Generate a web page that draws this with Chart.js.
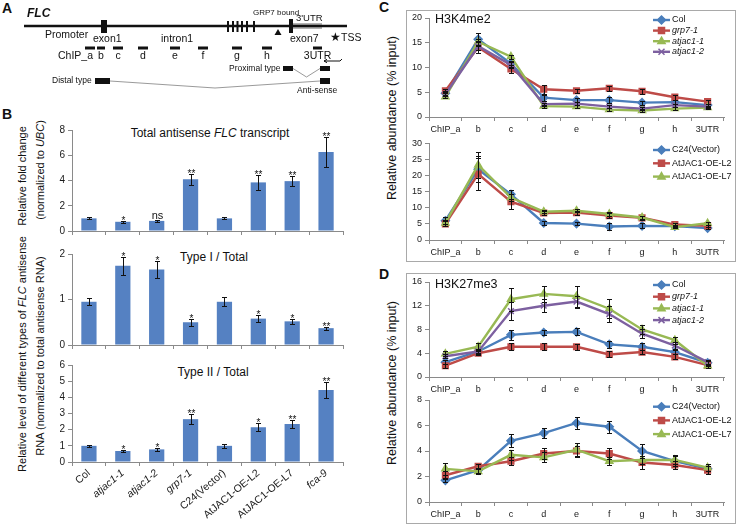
<!DOCTYPE html>
<html>
<head>
<meta charset="utf-8">
<title>FLC antisense transcripts and histone marks</title>
<script src="https://cdn.jsdelivr.net/npm/chart.js@4.4.1/dist/chart.umd.min.js"></script>
<style>
  body { margin: 0; background: #fff; }
  #page { position: relative; width: 738px; height: 526px; overflow: hidden;
          font-family: "Liberation Sans", Arial, sans-serif; color: #111; }
  #page canvas { position: absolute; }
  .txt { position: absolute; white-space: nowrap; transform: translate(-50%, -50%); }
  .vert { position: absolute; white-space: nowrap; transform: translate(-50%, -50%) rotate(-90deg); }
  .letter { position: absolute; font-weight: bold; font-size: 14px; }
  .frame { position: absolute; border: 1px solid #a9a9a9; box-sizing: border-box; }
</style>
</head>
<body>
<div id="page">
  <div class="frame" style="left:406px;top:10px;width:330px;height:252px"></div>
  <div class="frame" style="left:406px;top:273px;width:330px;height:251px"></div>

  <div class="letter" style="left:2px;top:0px">A</div>
  <div class="letter" style="left:2px;top:106px">B</div>
  <div class="letter" style="left:379px;top:-1px">C</div>
  <div class="letter" style="left:379px;top:266px">D</div>

  <div class="txt" style="left:210px;top:133px;font-size:12px">Total antisense <i>FLC</i> transcript</div>
  <div class="txt" style="left:214px;top:257px;font-size:12px">Type I / Total</div>
  <div class="txt" style="left:213px;top:372px;font-size:12px">Type II / Total</div>

  <div class="vert" style="left:22px;top:176px;font-size:11px">Relative fold change</div>
  <div class="vert" style="left:40px;top:170px;font-size:11px">(normalized to <i>UBC</i>)</div>
  <div class="vert" style="left:22px;top:354px;font-size:11px">Relative level of different types of <i>FLC</i> antisense</div>
  <div class="vert" style="left:40px;top:356px;font-size:11px">RNA (normalized to total antisense RNA)</div>

  <div class="vert" style="left:392px;top:118px;font-size:12.5px">Relative abundance (% input)</div>
  <div class="vert" style="left:392px;top:383px;font-size:12.5px">Relative abundance (% input)</div>
</div>

<script>
// ---- panel A: FLC locus (positions along the drawing axis) ----
const locusSpan = [24, 347];
const exon1Pos = [101, 107];
const middleExons = [228, 233, 237.5, 242, 247, 254];
const exon7Pos = [289, 293];
const utrPos = [293, 322];
const grp7Pos = 278;
const chipNames = ['ChIP_a', 'b', 'c', 'd', 'e', 'f', 'g', 'h', '3UTR'];
const chipStart = [85, 97, 113, 138, 170, 198, 232, 262, 313];
const chipEnd = [95, 105, 123, 148, 180, 208, 242, 272, 322];
const proximalExons = [[283, 293], [320, 330]];
const distalExons = [[95, 110], [320, 330]];

// ---- panel B: antisense transcripts ----
const genotypes = ['Col', 'atjac1-1', 'atjac1-2', 'grp7-1', 'C24(Vector)', 'AtJAC1-OE-L2', 'AtJAC1-OE-L7', 'fca-9'];
const italicGenotype = [false, true, true, true, false, false, false, true];

const totalVals = [1.0, 0.73, 0.8, 4.1, 1.0, 3.85, 3.95, 6.25];
const totalErr = [0.08, 0.07, 0.1, 0.45, 0.07, 0.6, 0.4, 1.17];
const totalMarks = ['', '*', 'ns', '**', '', '**', '**', '**'];

const typeIVals = [0.95, 1.74, 1.66, 0.5, 0.95, 0.58, 0.52, 0.37];
const typeIErr = [0.08, 0.2, 0.18, 0.08, 0.1, 0.07, 0.06, 0.03];
const typeIMarks = ['', '*', '*', '*', '', '*', '*', '**'];

const typeIIVals = [1.0, 0.68, 0.78, 2.65, 1.0, 2.15, 2.35, 4.45];
const typeIIErr = [0.08, 0.06, 0.1, 0.3, 0.12, 0.25, 0.25, 0.5];
const typeIIMarks = ['', '*', '*', '**', '', '*', '**', '**'];

// ---- panels C and D: ChIP along FLC ----
const regions = ['ChIP_a', 'b', 'c', 'd', 'e', 'f', 'g', 'h', '3UTR'];
const mutantNames = ['Col', 'grp7-1', 'atjac1-1', 'atjac1-2'];
const mutantItalic = [false, true, true, true];
const oeNames = ['C24(Vector)', 'AtJAC1-OE-L2', 'AtJAC1-OE-L7'];
const oeItalic = [false, false, false];

const colK4 = [4.8, 15.7, 10.8, 3.9, 3.4, 3.4, 2.9, 3.0, 2.4];
const grp7K4 = [5.3, 14.1, 9.7, 5.6, 5.3, 5.8, 5.2, 4.0, 3.1];
const jac11K4 = [4.1, 15.2, 12.2, 2.2, 2.1, 1.5, 1.3, 1.7, 1.9];
const jac12K4 = [4.6, 14.3, 10.5, 2.6, 2.7, 2.1, 1.7, 2.4, 2.1];
const colK4Err = [0.4, 1.3, 0.6, 0.6, 0.4, 0.6, 0.4, 0.4, 0.3];
const grp7K4Err = [0.3, 1.2, 0.8, 0.9, 0.4, 0.5, 0.5, 0.5, 0.4];
const jac11K4Err = [0.3, 0.6, 0.4, 0.3, 0.3, 0.3, 0.3, 0.3, 0.2];
const jac12K4Err = [0.3, 0.8, 0.6, 0.3, 0.3, 0.3, 0.3, 0.3, 0.2];

const c24K4 = [6.0, 22.0, 14.2, 5.3, 5.1, 4.2, 4.4, 4.3, 3.7];
const l2K4 = [5.0, 20.5, 11.9, 8.4, 8.5, 7.6, 6.9, 4.8, 4.4];
const l7K4 = [5.3, 23.3, 13.2, 8.8, 9.1, 8.1, 7.0, 4.0, 5.2];
const c24K4Err = [1.0, 4.0, 1.3, 0.6, 0.5, 1.0, 0.8, 0.4, 0.4];
const l2K4Err = [0.8, 5.0, 2.4, 0.6, 0.6, 0.7, 0.6, 0.4, 0.4];
const l7K4Err = [0.8, 4.0, 1.2, 0.5, 0.5, 0.5, 0.5, 0.4, 0.4];

const colK27 = [2.5, 4.3, 7.1, 7.5, 7.6, 5.5, 5.1, 4.2, 2.4];
const grp7K27 = [1.9, 4.0, 5.1, 5.1, 5.1, 3.8, 4.2, 3.4, 2.0];
const jac11K27 = [3.9, 5.1, 13.1, 14.0, 13.6, 11.5, 8.0, 6.2, 1.9];
const jac12K27 = [3.5, 4.3, 11.1, 12.0, 12.7, 10.6, 7.3, 5.3, 2.5];
const colK27Err = [0.3, 0.3, 0.8, 0.5, 0.6, 0.6, 0.6, 0.4, 0.3];
const grp7K27Err = [0.3, 0.3, 0.6, 0.6, 0.5, 0.5, 0.4, 0.4, 0.2];
const jac11K27Err = [0.4, 0.6, 1.9, 1.4, 1.8, 1.6, 0.8, 0.6, 0.3];
const jac12K27Err = [0.3, 0.4, 1.5, 1.1, 1.0, 1.3, 0.8, 0.6, 0.4];

const c24K27 = [1.7, 2.5, 4.8, 5.4, 6.2, 5.9, 4.0, 3.2, 2.6];
const l2K27 = [2.1, 2.8, 3.2, 3.8, 4.0, 3.8, 3.1, 2.9, 2.5];
const l7K27 = [2.6, 2.4, 3.7, 3.5, 4.1, 3.2, 3.3, 3.3, 2.7];
const c24K27Err = [0.15, 0.2, 0.5, 0.4, 0.5, 0.45, 0.55, 0.4, 0.4];
const l2K27Err = [0.3, 0.2, 0.3, 0.4, 0.4, 0.4, 0.5, 0.3, 0.3];
const l7K27Err = [0.45, 0.2, 0.4, 0.4, 0.55, 0.3, 0.3, 0.35, 0.3];

// styles
const FONT = '"Liberation Sans", Arial, sans-serif';
const barBlue = '#5581c2';
const axisGray = '#8a8a8a';
const palette = ['#4a7ebb', '#be4b48', '#98b954', '#7d60a0'];
const markers = ['rectRot', 'rect', 'triangle', 'crossRot'];

Chart.defaults.font.family = FONT;
Chart.defaults.color = '#1a1a1a';

const page = document.getElementById('page');

function mount(box) {
  const c = document.createElement('canvas');
  c.width = box.w;
  c.height = box.h;
  c.style.left = box.left + 'px';
  c.style.top = box.top + 'px';
  c.style.width = box.w + 'px';
  c.style.height = box.h + 'px';
  page.appendChild(c);
  return c;
}

function padFor(box, plot) {
  return { top: plot.y0 - box.top, right: box.left + box.w - plot.x1, left: 0, bottom: 0 };
}

// error bars (+ significance marks) for any dataset carrying `errors`
const errorBars = {
  id: 'errorBars',
  afterDatasetsDraw(chart) {
    const { ctx } = chart;
    const y = chart.scales.y;
    chart.data.datasets.forEach((ds, di) => {
      if (!ds.errors) return;
      chart.getDatasetMeta(di).data.forEach((el, i) => {
        const v = ds.data[i], e = ds.errors[i];
        const px = Math.round(el.x) + 0.5;
        const top = Math.round(y.getPixelForValue(v + e)) + 0.5;
        const bot = Math.round(y.getPixelForValue(v - e)) + 0.5;
        ctx.save();
        ctx.strokeStyle = '#111';
        ctx.lineWidth = 1;
        ctx.beginPath();
        ctx.moveTo(px, top); ctx.lineTo(px, bot);
        ctx.moveTo(px - 2.5, top); ctx.lineTo(px + 2.5, top);
        ctx.moveTo(px - 2.5, bot); ctx.lineTo(px + 2.5, bot);
        ctx.stroke();
        const m = ds.marks && ds.marks[i];
        if (m) {
          ctx.fillStyle = '#111';
          ctx.textAlign = 'center';
          ctx.textBaseline = 'alphabetic';
          ctx.font = (m.includes('*') ? '10px ' : '11px ') + FONT;
          ctx.fillText(m, px, m.includes('*') ? top + 2 : top - 2);
        }
        ctx.restore();
      });
    });
  }
};

function barChart(box, plot, values, errors, marks, yMax, step, withLabels) {
  return new Chart(mount(box), {
    type: 'bar',
    data: {
      labels: genotypes,
      datasets: [{ data: values, errors, marks, backgroundColor: barBlue,
                   barPercentage: 0.45, categoryPercentage: 1 }]
    },
    options: {
      responsive: false, animation: false, events: [],
      layout: { padding: padFor(box, plot) },
      plugins: { legend: { display: false }, tooltip: { enabled: false } },
      scales: {
        x: {
          offset: true,
          grid: { offset: true, drawOnChartArea: false, tickLength: 4, color: axisGray },
          border: { color: axisGray },
          ticks: withLabels ? {
            autoSkip: false, minRotation: 40, maxRotation: 40, padding: 1,
            font: c => ({ size: 10.5, style: italicGenotype[c.index] ? 'italic' : 'normal' })
          } : { display: false },
          afterFit: s => { s.height = box.top + box.h - plot.y1; }
        },
        y: {
          min: 0, max: yMax,
          ticks: { stepSize: step, font: { size: 10 }, padding: 3 },
          grid: { drawOnChartArea: false, tickLength: 4, color: axisGray },
          border: { color: axisGray },
          afterFit: s => { s.width = plot.x0 - box.left; }
        }
      }
    },
    plugins: [errorBars]
  });
}

function marker(ctx, style, x, y, r) {
  ctx.beginPath();
  if (style === 'rect') {
    const s = r * 0.75;
    ctx.rect(x - s, y - s, 2 * s, 2 * s); ctx.fill(); ctx.stroke();
  } else if (style === 'rectRot') {
    ctx.moveTo(x, y - r); ctx.lineTo(x + r, y); ctx.lineTo(x, y + r); ctx.lineTo(x - r, y);
    ctx.closePath(); ctx.fill(); ctx.stroke();
  } else if (style === 'triangle') {
    ctx.moveTo(x, y - r); ctx.lineTo(x + r * 0.9, y + r * 0.6); ctx.lineTo(x - r * 0.9, y + r * 0.6);
    ctx.closePath(); ctx.fill(); ctx.stroke();
  } else {
    const s = r * 0.75;
    ctx.moveTo(x - s, y - s); ctx.lineTo(x + s, y + s);
    ctx.moveTo(x + s, y - s); ctx.lineTo(x - s, y + s);
    ctx.stroke();
  }
}

// title and legend drawn inside the plot area, Excel style
const innerLegend = {
  id: 'inner',
  afterDraw(chart, args, opts) {
    const { ctx, chartArea: a } = chart;
    ctx.save();
    ctx.textBaseline = 'middle';
    ctx.textAlign = 'left';
    if (opts.title) {
      ctx.fillStyle = '#111';
      ctx.font = '12.5px ' + FONT;
      ctx.fillText(opts.title, a.left + 6, a.top + opts.titleDy);
    }
    chart.data.datasets.forEach((ds, k) => {
      const y = a.top + opts.legendTop + k * opts.legendGap;
      const x0 = a.right - 71, x1 = a.right - 54;
      ctx.strokeStyle = ds.borderColor;
      ctx.fillStyle = ds.backgroundColor;
      ctx.lineWidth = 2.4;
      ctx.beginPath(); ctx.moveTo(x0, y); ctx.lineTo(x1, y); ctx.stroke();
      ctx.lineWidth = 1.5;
      marker(ctx, ds.pointStyle, (x0 + x1) / 2, y, 4);
      ctx.fillStyle = '#111';
      ctx.font = (ds.italic ? 'italic ' : '') + '9px ' + FONT;
      ctx.fillText(ds.label, x1 + 2, y);
    });
    ctx.restore();
  }
};

function lineChart(box, plot, names, italics, values, errors, yMax, step, legend, title) {
  const datasets = values.map((vals, k) => ({
    label: names[k], data: vals, errors: errors[k], italic: italics[k],
    borderColor: palette[k], backgroundColor: palette[k],
    pointStyle: markers[k], pointRadius: 4, pointBorderWidth: 1.5,
    borderWidth: 2.4, tension: 0, order: values.length - k
  }));
  return new Chart(mount(box), {
    type: 'line',
    data: { labels: regions, datasets },
    options: {
      responsive: false, animation: false, events: [],
      layout: { padding: padFor(box, plot) },
      plugins: {
        legend: { display: false }, tooltip: { enabled: false },
        inner: { legendTop: legend[0], legendGap: legend[1], title, titleDy: legend[2] }
      },
      scales: {
        x: {
          offset: true,
          grid: { offset: true, drawOnChartArea: false, tickLength: 4, color: axisGray },
          border: { color: axisGray },
          ticks: { autoSkip: false, maxRotation: 0, font: { size: 9 }, padding: 3 },
          afterFit: s => { s.height = box.top + box.h - plot.y1; }
        },
        y: {
          min: 0, max: yMax,
          ticks: { stepSize: step, font: { size: 9 }, padding: 3 },
          grid: { drawOnChartArea: false, tickLength: 4, color: axisGray },
          border: { color: axisGray },
          afterFit: s => { s.width = plot.x0 - box.left; }
        }
      }
    },
    plugins: [errorBars, innerLegend]
  });
}

// ---- panel A schematic, drawn through hidden linear scales ----
const locusDiagram = {
  id: 'locus',
  afterDraw(chart) {
    const { ctx, scales: { x, y } } = chart;
    const X = v => x.getPixelForValue(v);
    const Y = v => y.getPixelForValue(v);
    const rect = (x0, x1, y0, y1) => ctx.fillRect(X(x0), Y(y0), X(x1) - X(x0), Y(y1) - Y(y0));
    const text = (t, px, py, size, align = 'left', style = '') => {
      ctx.font = style + size + 'px ' + FONT;
      ctx.textAlign = align;
      ctx.fillText(t, X(px), Y(py));
    };
    const bend = (pair, row, dip) => {
      const a = pair[0][1], b = pair[1][0];
      ctx.beginPath();
      ctx.moveTo(X(a), Y(row)); ctx.lineTo(X((a + b) / 2), Y(dip)); ctx.lineTo(X(b), Y(row));
      ctx.stroke();
    };

    ctx.save();
    ctx.textBaseline = 'middle';
    ctx.fillStyle = '#111';
    text('FLC', 27, 14, 12, 'left', 'italic bold ');

    ctx.fillStyle = '#b3b3b3';
    rect(utrPos[0], utrPos[1], 23, 29);
    ctx.strokeStyle = '#111';
    ctx.lineWidth = 2.5;
    ctx.beginPath(); ctx.moveTo(X(locusSpan[0]), Y(26)); ctx.lineTo(X(locusSpan[1]), Y(26)); ctx.stroke();

    ctx.fillStyle = '#111';
    rect(exon1Pos[0], exon1Pos[1], 20, 33);
    middleExons.forEach(p => rect(p - 1, p + 1, 21, 32));
    rect(exon7Pos[0], exon7Pos[1], 19, 33);

    ctx.beginPath();
    ctx.moveTo(X(grp7Pos), Y(29)); ctx.lineTo(X(grp7Pos + 3.5), Y(35)); ctx.lineTo(X(grp7Pos - 3.5), Y(35));
    ctx.closePath(); ctx.fill();

    text('GRP7 bound', 253, 13, 8);
    text("3'UTR", 296, 18, 9.5);
    text('Promoter', 45, 35, 10.5);
    text('exon1', 93, 39, 10.5);
    text('intron1', 161, 39, 10.5);
    text('exon7', 290, 39, 10.5);
    text('\u2605', 335, 38, 12, 'center');
    text('TSS', 341, 38, 10.5);

    chipNames.forEach((n, i) => {
      rect(chipStart[i], chipEnd[i], 46.5, 49.5);
      const mid = (chipStart[i] + chipEnd[i]) / 2;
      if (i === 0) text(n, mid + 3, 56, 10.5, 'right');
      else text(n, mid, 56, 10.5, 'center');
    });

    // antisense transcription start arrow
    ctx.lineWidth = 1;
    ctx.beginPath();
    ctx.moveTo(X(342), Y(59)); ctx.lineTo(X(340), Y(61)); ctx.lineTo(X(324), Y(61));
    ctx.moveTo(X(327), Y(59.3)); ctx.lineTo(X(324), Y(61)); ctx.lineTo(X(327), Y(62.7));
    ctx.stroke();

    proximalExons.forEach(([a, b]) => rect(a, b, 66, 71));
    distalExons.forEach(([a, b]) => rect(a, b, 78, 84));
    ctx.strokeStyle = '#808080';
    ctx.lineWidth = 0.8;
    bend(proximalExons, 68.5, 77);
    bend(distalExons, 81, 88);

    text('Proximal type', 229, 68.5, 8.5);
    text('Distal type', 52, 81, 8.5);
    text('Anti-sense', 297, 90.5, 8.5);
    ctx.restore();
  }
};

new Chart(mount({ left: 0, top: 0, w: 370, h: 100 }), {
  type: 'scatter',
  data: { datasets: [] },
  options: {
    responsive: false, animation: false, events: [],
    layout: { padding: 0 },
    plugins: { legend: { display: false }, tooltip: { enabled: false } },
    scales: {
      x: { type: 'linear', min: 0, max: 370, display: false },
      y: { type: 'linear', min: 0, max: 100, reverse: true, display: false }
    }
  },
  plugins: [locusDiagram]
});

// ---- panel B ----
barChart({ left: 48, top: 112, w: 302, h: 128 }, { x0: 72, x1: 343, y0: 130, y1: 232 },
  totalVals, totalErr, totalMarks, 8, 2, false);
barChart({ left: 48, top: 238, w: 302, h: 116 }, { x0: 72, x1: 343, y0: 254, y1: 350 },
  typeIVals, typeIErr, typeIMarks, 2, 1, false);
barChart({ left: 48, top: 356, w: 302, h: 170 }, { x0: 72, x1: 343, y0: 365, y1: 462 },
  typeIIVals, typeIIErr, typeIIMarks, 6, 1, true);

// ---- panel C: H3K4me2 ----
lineChart({ left: 410, top: 6, w: 326, h: 131 }, { x0: 429, x1: 724, y0: 18, y1: 117 },
  mutantNames, mutantItalic, [colK4, grp7K4, jac11K4, jac12K4],
  [colK4Err, grp7K4Err, jac11K4Err, jac12K4Err], 20, 5, [2, 10.6, 2], 'H3K4me2');
lineChart({ left: 410, top: 134, w: 326, h: 128 }, { x0: 429, x1: 724, y0: 143.5, y1: 240 },
  oeNames, oeItalic, [c24K4, l2K4, l7K4],
  [c24K4Err, l2K4Err, l7K4Err], 30, 5, [6.5, 13.3, 0], '');

// ---- panel D: H3K27me3 ----
lineChart({ left: 410, top: 272, w: 326, h: 126 }, { x0: 429, x1: 724, y0: 282, y1: 377 },
  mutantNames, mutantItalic, [colK27, grp7K27, jac11K27, jac12K27],
  [colK27Err, grp7K27Err, jac11K27Err, jac12K27Err], 16, 4, [3, 11.7, 3], 'H3K27me3');
lineChart({ left: 410, top: 391, w: 326, h: 132 }, { x0: 429, x1: 724, y0: 400, y1: 502 },
  oeNames, oeItalic, [c24K27, l2K27, l7K27],
  [c24K27Err, l2K27Err, l7K27Err], 8, 2, [6.7, 13.7, 0], '');
</script>
</body>
</html>
